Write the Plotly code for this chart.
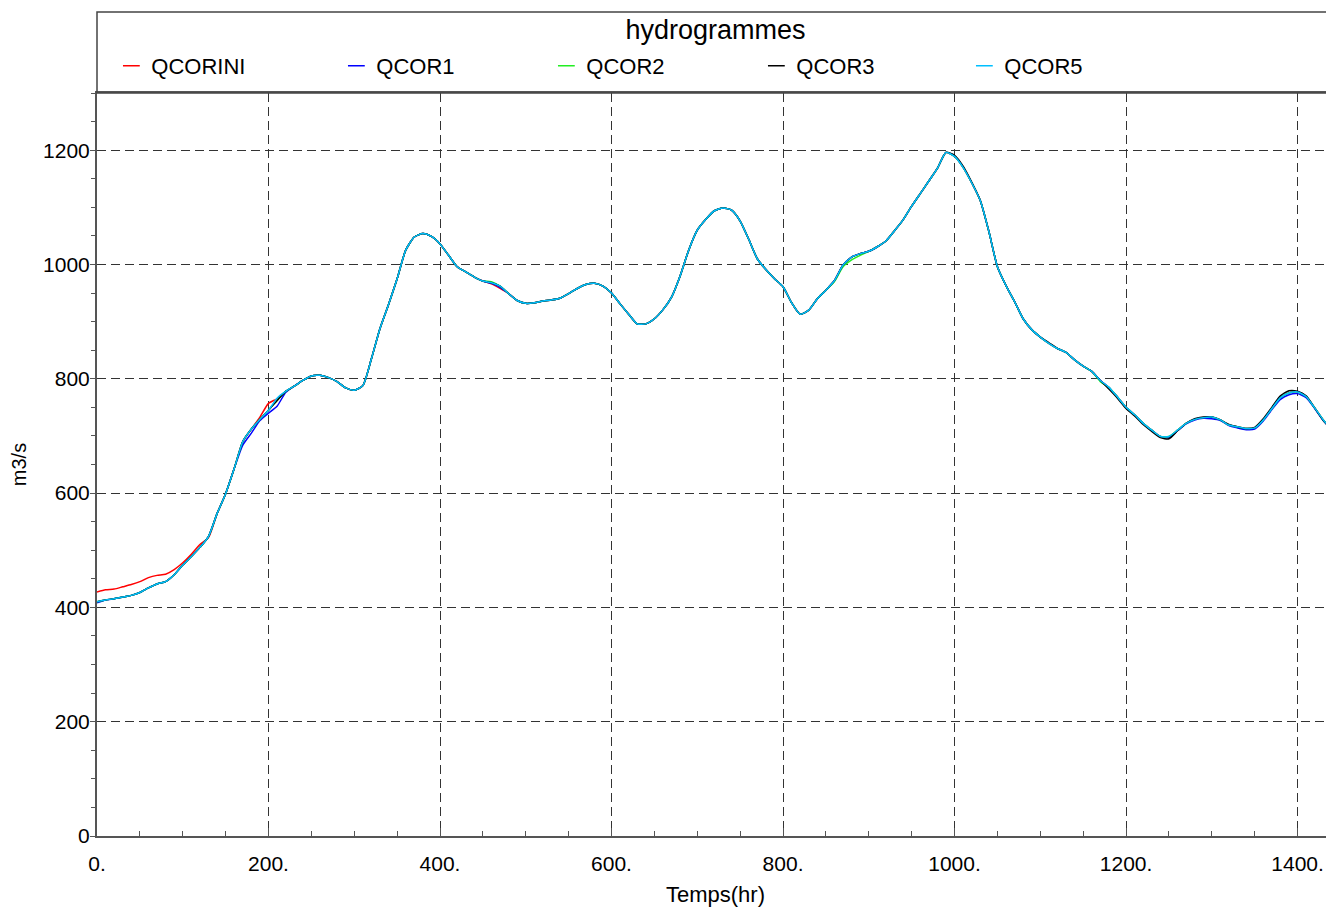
import plotly.graph_objects as go

# time axis (hr), one reading every 10 hr
TEMPS = list(range(0, 1441, 10))

QCORINI = [427, 431, 432, 436, 440, 445, 452, 456, 458, 466,
           478, 493, 510, 522, 564, 599, 643, 690, 712, 733,
           757, 765, 778, 787, 797, 805, 806, 802, 795, 784,
           780, 788, 835, 888, 930, 975, 1025, 1048, 1054, 1049,
           1036, 1016, 996, 987, 978, 971, 966, 958, 949, 937,
           932, 933, 936, 938, 941, 949, 958, 965, 967, 962,
           950, 931, 913, 896, 896, 905, 921, 943, 980, 1025,
           1060, 1079, 1094, 1099, 1095, 1076, 1044, 1010, 991, 975,
           961, 933, 913, 920, 940, 955, 972, 999, 1013, 1019,
           1023, 1031, 1041, 1059, 1078, 1102, 1124, 1146, 1168, 1196,
           1189, 1170, 1143, 1112, 1058, 996, 963, 935, 905, 886,
           873, 862, 853, 846, 833, 822, 813, 797, 784, 768,
           750, 737, 722, 710, 699, 698, 710, 722, 729, 732,
           733, 728, 719, 716, 713, 714, 728, 748, 767, 775,
           777, 769, 749, 728, 711]

QCOR1 = [408, 413, 415, 418, 421, 426, 434, 441, 445, 457,
         474, 489, 505, 524, 564, 599, 643, 684, 705, 727,
         740, 752, 776, 787, 797, 805, 806, 802, 795, 784,
         780, 788, 835, 888, 930, 975, 1025, 1048, 1054, 1049,
         1036, 1016, 996, 987, 978, 971, 967, 960, 949, 937,
         932, 933, 936, 938, 941, 949, 958, 965, 967, 962,
         950, 931, 913, 896, 896, 905, 921, 943, 980, 1025,
         1060, 1079, 1094, 1099, 1095, 1076, 1044, 1010, 991, 975,
         961, 933, 913, 920, 940, 955, 972, 999, 1013, 1019,
         1023, 1031, 1041, 1059, 1078, 1102, 1124, 1146, 1168, 1196,
         1189, 1170, 1143, 1112, 1058, 996, 963, 935, 905, 886,
         873, 862, 853, 846, 833, 822, 813, 797, 785, 768,
         750, 737, 722, 710, 699, 697, 709, 721, 728, 731,
         730, 727, 718, 714, 711, 712, 726, 746, 764, 772,
         774, 767, 748, 727, 710]

QCOR2 = [410, 413, 415, 418, 421, 426, 434, 441, 445, 457,
         474, 489, 505, 524, 564, 599, 643, 690, 712, 729,
         745, 762, 778, 787, 797, 805, 806, 802, 795, 784,
         780, 788, 835, 888, 930, 975, 1025, 1048, 1054, 1049,
         1036, 1016, 996, 987, 978, 971, 970, 962, 949, 937,
         932, 933, 936, 938, 941, 949, 958, 965, 967, 962,
         950, 931, 913, 896, 896, 905, 921, 943, 980, 1025,
         1060, 1079, 1094, 1099, 1095, 1076, 1044, 1010, 991, 975,
         961, 933, 913, 920, 940, 955, 970, 996, 1008, 1016,
         1023, 1031, 1041, 1059, 1078, 1102, 1124, 1146, 1168, 1196,
         1189, 1170, 1143, 1112, 1058, 996, 963, 935, 905, 886,
         873, 862, 853, 846, 833, 822, 813, 795, 785, 768,
         750, 737, 722, 710, 699, 699, 710, 722, 729, 732,
         733, 728, 719, 716, 713, 714, 728, 748, 767, 775,
         777, 769, 749, 728, 711]

QCOR3 = [410, 413, 415, 418, 421, 426, 434, 441, 445, 457,
         474, 489, 505, 524, 564, 599, 643, 690, 712, 729,
         745, 762, 778, 787, 797, 805, 806, 802, 795, 784,
         780, 788, 835, 888, 930, 975, 1025, 1048, 1054, 1049,
         1036, 1016, 996, 987, 978, 971, 968, 962, 949, 937,
         932, 933, 936, 938, 941, 949, 958, 965, 967, 962,
         950, 931, 913, 896, 896, 905, 921, 943, 980, 1025,
         1060, 1079, 1094, 1099, 1095, 1076, 1044, 1010, 991, 975,
         961, 933, 913, 920, 940, 955, 972, 999, 1013, 1019,
         1023, 1031, 1041, 1059, 1078, 1102, 1124, 1146, 1168, 1196,
         1191, 1172, 1144, 1112, 1058, 996, 963, 935, 905, 886,
         873, 863, 853, 846, 833, 822, 813, 797, 782, 766,
         748, 735, 720, 708, 697, 695, 709, 722, 730, 733,
         733, 728, 720, 716, 713, 715, 730, 750, 770, 779,
         778, 770, 749, 727, 710]

QCOR5 = [410, 413, 415, 418, 421, 426, 434, 441, 445, 457,
         474, 489, 505, 524, 564, 599, 643, 690, 712, 729,
         745, 766, 778, 787, 797, 805, 806, 802, 795, 784,
         780, 788, 835, 888, 930, 975, 1025, 1048, 1054, 1049,
         1036, 1016, 996, 987, 978, 971, 968, 962, 949, 937,
         932, 933, 936, 938, 941, 949, 958, 965, 967, 962,
         950, 931, 913, 896, 896, 905, 921, 943, 980, 1025,
         1060, 1079, 1094, 1099, 1095, 1076, 1044, 1010, 991, 975,
         961, 933, 913, 920, 940, 955, 972, 999, 1013, 1019,
         1023, 1031, 1041, 1059, 1078, 1102, 1124, 1146, 1168, 1196,
         1189, 1170, 1143, 1112, 1058, 996, 963, 935, 905, 886,
         873, 862, 853, 846, 833, 822, 813, 797, 785, 768,
         750, 737, 722, 710, 699, 699, 710, 722, 729, 732,
         733, 728, 719, 716, 713, 714, 728, 748, 767, 775,
         777, 769, 749, 728, 711]

NAMES = ['QCORINI', 'QCOR1', 'QCOR2', 'QCOR3', 'QCOR5']
VALUES = [QCORINI, QCOR1, QCOR2, QCOR3, QCOR5]
COLORS = ['#ff0000', '#0000ff', '#22ee22', '#000000', '#00bfff']
LEGEND_W = [180, 165, 165, 163, 165]

FONT = 'Liberation Sans, Arial, Helvetica, sans-serif'
AXIS_GREY = '#555555'

# the page body has an 8px margin, so the figure is drawn 8px smaller
FIG_W, FIG_H = 1326, 899
M_L, M_R, M_T, M_B = 89, 0, 85, 71
plot_w = FIG_W - M_L - M_R
plot_h = FIG_H - M_T - M_B

fig = go.Figure()

for name, vals, col in zip(NAMES, VALUES, COLORS):
    fig.add_trace(go.Scatter(x=TEMPS, y=vals, mode='lines', name=name,
                             legendgroup=name, showlegend=False,
                             line=dict(color=col, width=1.5, shape='spline', smoothing=0.6)))

# short dash legend keys, like the original plot
for name, col, lw in zip(NAMES, COLORS, LEGEND_W):
    fig.add_trace(go.Scatter(x=[None], y=[None], mode='markers', name=name,
                             legendgroup=name, legendwidth=lw,
                             marker=dict(symbol='line-ew', size=12,
                                         line=dict(color=col, width=1.5))))

# box holding the title and legend
fig.add_shape(type='rect', xref='paper', yref='paper', x0=0, x1=1,
              y0=1, y1=1 + 81 / plot_h,
              line=dict(color='#444444', width=1.5), fillcolor='rgba(0,0,0,0)')

fig.update_layout(
    width=FIG_W, height=FIG_H,
    margin=dict(l=M_L, r=M_R, t=M_T, b=M_B, autoexpand=False),
    paper_bgcolor='white', plot_bgcolor='white',
    font=dict(family=FONT, size=21, color='black'),
    title=dict(text='hydrogrammes', x=0.5, xref='paper', xanchor='center',
               y=1 - 22 / FIG_H, yref='container', yanchor='middle',
               font=dict(size=27, color='black')),
    showlegend=True,
    legend=dict(orientation='h', x=0.01 + 2 / plot_w, xanchor='left',
                y=1 + 27 / plot_h, yanchor='middle',
                entrywidthmode='pixels',
                font=dict(size=22), bgcolor='rgba(0,0,0,0)', traceorder='normal'),
)

fig.update_xaxes(
    range=[0, 1442.5], tick0=0, dtick=200, ticksuffix='.',
    ticks='inside', ticklen=8, tickcolor=AXIS_GREY, tickwidth=1,
    showline=True, linecolor=AXIS_GREY, linewidth=2, mirror=True,
    showgrid=True, gridcolor='#333333', gridwidth=1, griddash='9px,5px',
    zeroline=False,
    minor=dict(tick0=0, dtick=50, ticks='inside', ticklen=5, tickcolor=AXIS_GREY, showgrid=False),
    tickfont=dict(size=21), ticklabelstandoff=8,
    title=dict(text='Temps(hr)', font=dict(size=22), standoff=12),
)

fig.update_yaxes(
    range=[0, 1300], tick0=0, dtick=200,
    ticks='outside', ticklen=5, tickcolor=AXIS_GREY, tickwidth=1,
    showline=True, linecolor=AXIS_GREY, linewidth=2,
    showgrid=True, gridcolor='#333333', gridwidth=1, griddash='9px,5px',
    zeroline=False,
    minor=dict(tick0=0, dtick=50, ticks='outside', ticklen=4, tickcolor=AXIS_GREY, showgrid=False),
    tickfont=dict(size=21), ticklabelstandoff=-4,
    title=dict(text='m3/s', font=dict(size=20), standoff=12),
)

fig.write_html("out.html")
